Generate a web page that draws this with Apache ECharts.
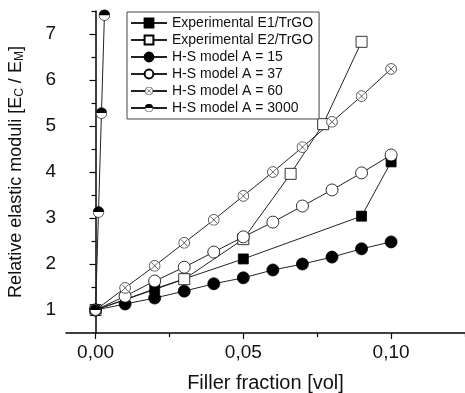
<!DOCTYPE html>
<html>
<head>
<meta charset="utf-8">
<script src="https://cdn.jsdelivr.net/npm/echarts@6/dist/echarts.min.js"></script>
<style>
  html, body { margin: 0; padding: 0; background: #fff; }
  #chart { width: 465px; height: 393px; }
</style>
</head>
<body>
<div id="chart"></div>
<script>
  // values
  var xE1 = [0, 0.02, 0.05, 0.09, 0.10];
  var yE1 = [1.0, 1.46, 2.11, 3.04, 4.22];
  var xE2 = [0, 0.03, 0.05, 0.066, 0.077, 0.09];
  var yE2 = [1.0, 1.67, 2.54, 3.96, 5.04, 6.83];
  var xModel = [0, 0.01, 0.02, 0.03, 0.04, 0.05, 0.06, 0.07, 0.08, 0.09, 0.10];
  var yA15 = [1.0, 1.13, 1.26, 1.41, 1.57, 1.70, 1.87, 2.00, 2.15, 2.33, 2.48];
  var yA37 = [1.0, 1.30, 1.63, 1.93, 2.26, 2.59, 2.91, 3.26, 3.61, 3.98, 4.37];
  var yA60 = [1.0, 1.48, 1.96, 2.46, 2.96, 3.48, 4.00, 4.54, 5.09, 5.65, 6.24];
  var xA3000 = [0, 0.001, 0.002, 0.003];
  var yA3000 = [1.0, 3.13, 5.28, 7.41];
  var names = ['Experimental E1/TrGO', 'Experimental E2/TrGO', 'H-S model A = 15',
               'H-S model A = 37', 'H-S model A = 60', 'H-S model A = 3000'];
  var xLabels = [0, 0.05, 0.10];
  var xMinor = [0.025, 0.075, 0.125];
  var yLabels = [1, 2, 3, 4, 5, 6, 7];
  var yMinor = [1.5, 2.5, 3.5, 4.5, 5.5, 6.5, 7.5];

  function pairs(xs, ys) {
    var out = [];
    for (var i = 0; i < xs.length; i++) out.push([xs[i], ys[i]]);
    return out;
  }

  var crossSvg = '<svg xmlns="http://www.w3.org/2000/svg" width="24" height="24" viewBox="0 0 24 24">' +
    '<circle cx="12" cy="12" r="10.8" fill="#fff" stroke="#000" stroke-width="1.3"/>' +
    '<path d="M5.5 5.5 L18.5 18.5 M18.5 5.5 L5.5 18.5" stroke="#000" stroke-width="1.2"/></svg>';
  var halfSvg = '<svg xmlns="http://www.w3.org/2000/svg" width="24" height="24" viewBox="0 0 24 24">' +
    '<circle cx="12" cy="12" r="10.8" fill="#fff" stroke="#000" stroke-width="1.3"/>' +
    '<path d="M1.2 12 A10.8 10.8 0 0 1 22.8 12 Z" fill="#000"/></svg>';
  var crossSym = 'image://data:image/svg+xml;charset=utf-8,' + encodeURIComponent(crossSvg);
  var halfSym = 'image://data:image/svg+xml;charset=utf-8,' + encodeURIComponent(halfSvg);

  var lineCol = '#222';
  var font = 'Liberation Sans, Arial, sans-serif';

  function mk(name, data, symbol, size, fill) {
    return {
      name: name,
      type: 'line',
      xAxisIndex: 0,
      yAxisIndex: 0,
      data: data,
      symbol: symbol,
      symbolSize: size,
      showAllSymbol: true,
      lineStyle: { color: lineCol, width: 1 },
      itemStyle: { color: fill, borderColor: '#000', borderWidth: 0.8 },
      emphasis: { disabled: true },
      animation: false
    };
  }

  var chart = echarts.init(document.getElementById('chart'));
  var option = {
    animation: false,
    grid: { left: 66, right: 0, top: 11, bottom: 60, containLabel: false, outerBoundsMode: 'none' },
    legend: {
      orient: 'vertical',
      left: 127,
      top: 12,
      data: names,
      itemWidth: 36,
      itemHeight: 11,
      itemGap: 3,
      padding: [4, 6, 4, 3],
      borderColor: '#444',
      borderWidth: 1,
      backgroundColor: '#fff',
      textStyle: { fontFamily: font, fontSize: 14, color: '#111' },
      selectedMode: false
    },
    xAxis: [{
      type: 'value',
      min: -0.01,
      max: 0.125,
      name: 'Filler fraction [vol]',
      nameLocation: 'middle',
      nameGap: 40,
      nameTextStyle: { fontFamily: font, fontSize: 20, color: '#111' },
      axisLine: { show: true, lineStyle: { color: '#000', width: 1.5 } },
      axisTick: { show: true, customValues: xLabels, length: 6, lineStyle: { color: '#000', width: 1.2 } },
      axisLabel: {
        customValues: xLabels, margin: 10,
        fontFamily: font, fontSize: 19, color: '#111',
        formatter: function (v) { return v.toFixed(2).replace('.', ','); }
      },
      splitLine: { show: false }
    }, {
      type: 'value',
      position: 'bottom',
      min: -0.01,
      max: 0.125,
      axisLine: { show: false },
      axisTick: { show: true, customValues: xMinor, length: 4, lineStyle: { color: '#000', width: 1.2 } },
      axisLabel: { show: false },
      splitLine: { show: false }
    }],
    yAxis: [{
      type: 'value',
      min: 0.5,
      max: 7.5,
      name: '{n|Relative elastic moduli [E}{s|C}{n| / E}{s|M}{n|]}',
      nameLocation: 'middle',
      nameGap: 40,
      nameTextStyle: {
        rich: {
          n: { fontFamily: font, fontSize: 18, color: '#111' },
          s: { fontFamily: font, fontSize: 12, color: '#111', verticalAlign: 'bottom', padding: [8, 0, 0, 0] }
        }
      },
      axisLine: { show: true, lineStyle: { color: '#000', width: 1.5 } },
      axisTick: { show: true, customValues: yLabels, length: 6, lineStyle: { color: '#000', width: 1.2 } },
      axisLabel: { customValues: yLabels, margin: 10, fontFamily: font, fontSize: 19, color: '#111' },
      splitLine: { show: false }
    }, {
      type: 'value',
      position: 'left',
      min: 0.5,
      max: 7.5,
      axisLine: { show: false },
      axisTick: { show: true, customValues: yMinor, length: 4, lineStyle: { color: '#000', width: 1.2 } },
      axisLabel: { show: false },
      splitLine: { show: false }
    }],
    series: [
      mk(names[0], pairs(xE1, yE1), 'rect', 10, '#000'),
      mk(names[1], pairs(xE2, yE2), 'rect', 11, '#fff'),
      mk(names[2], pairs(xModel, yA15), 'circle', 12, '#000'),
      mk(names[3], pairs(xModel, yA37), 'circle', 12, '#fff'),
      mk(names[4], pairs(xModel, yA60), crossSym, 12, '#fff'),
      mk(names[5], pairs(xA3000, yA3000), halfSym, 12, '#fff')
    ]
  };
  chart.setOption(option);
</script>
</body>
</html>
